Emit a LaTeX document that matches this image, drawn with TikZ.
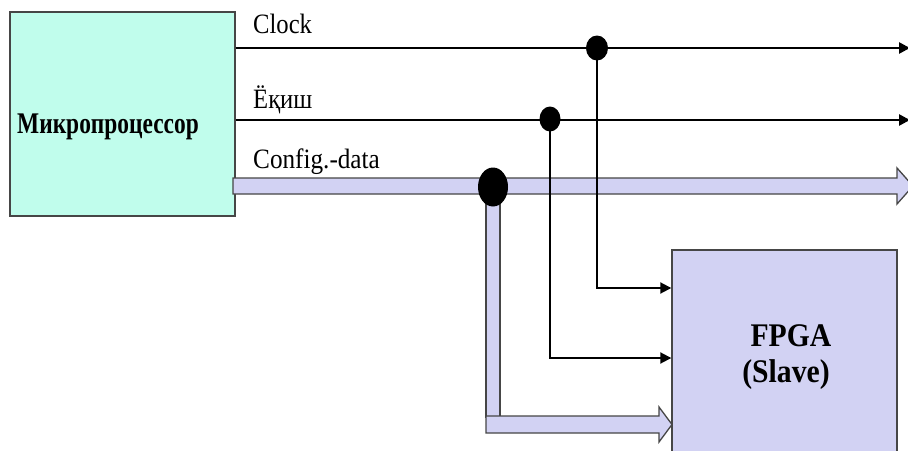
\documentclass[tikz,border=0pt]{standalone}
\usepackage{fontspec}
\setmainfont{Liberation Serif}
\usetikzlibrary{arrows.meta,shapes.geometric}
\definecolor{cpu}{RGB}{192,253,236}
\definecolor{lav}{RGB}{210,210,243}
\definecolor{edge}{RGB}{70,70,70}
\newcommand{\cond}[2]{\scalebox{#1}[1]{#2}}
\tikzset{
  cpubox/.style={draw=edge,line width=1.4pt,fill=cpu,rectangle,inner sep=0pt,minimum width=225pt,minimum height=204pt},
  fpgabox/.style={draw=edge,line width=1.4pt,fill=lav,rectangle,inner sep=0pt,minimum width=225pt,minimum height=215pt},
  lbl/.style={inner sep=0pt,font=\fontsize{28}{32}\selectfont},
  blbl/.style={inner sep=0pt,font=\fontsize{30}{36}\selectfont\bfseries},
  fbl/.style={inner sep=0pt,font=\fontsize{33}{38}\selectfont\bfseries},
  sig/.style={line width=2.6pt,draw=black},
  vsig/.style={line width=1.9pt,draw=black},
  tip/.style={-{Triangle[length=11pt,width=11pt]}},
  bus/.style={draw=edge,line width=1.3pt,fill=lav,line join=miter},
  dot/.style={ellipse,fill=black,inner sep=0pt},
}
\begin{document}
\begin{tikzpicture}[x=1pt,y=-1pt]
\useasboundingbox (0,0) rectangle (908,450);
\clip (0,0) rectangle (908,450);
\fill[white] (0,0) rectangle (908,450);

% blocks
\node[cpubox] (cpu) at (122.5,114) {};
\node[blbl,anchor=base west] (cputext) at (17,133) {\cond{0.78}{Микропроцессор}};
\node[fpgabox] (fpga) at (784.5,357.5) {};
\node[fbl,anchor=base] (fpgat1) at (791,346) {\cond{0.9}{FPGA}};
\node[fbl,anchor=base] (fpgat2) at (786,382) {\cond{0.9}{(Slave)}};

% labels
\node[lbl,anchor=base west] (lclk) at (253,33) {\cond{0.88}{Clock}};
\node[lbl,anchor=base west] (lsel) at (253,108) {\cond{0.88}{Ёқиш}};
\node[lbl,anchor=base west] (ldat) at (253,168) {\cond{0.9}{Config.-data}};

% coordinates
\coordinate (clkend) at (910,48);
\coordinate (selend) at (910,120);
\coordinate (clkin) at (fpga.west |- 0,288);
\coordinate (selin) at (fpga.west |- 0,358);

% buses
\draw[bus] (486,190) rectangle (500,417);
\draw[bus] (486,416) -- (659,416) -- (659,407) -- (672,424.5) -- (659,442) -- (659,433) -- (486,433) -- cycle;
\draw[bus] (233,178) -- (897,178) -- (897,168) -- (913,186) -- (897,204) -- (897,194) -- (233,194) -- cycle;

% signal lines
\draw[sig,tip] (cpu.east |- clkend) -- (clkend);
\draw[sig,tip] (cpu.east |- selend) -- (selend);

\node[dot,minimum width=22pt,minimum height=25pt] (dclk) at (597,48) {};
\node[dot,minimum width=21pt,minimum height=25pt] (dsel) at (550,119) {};
\node[dot,minimum width=30pt,minimum height=39pt] (ddat) at (493,187) {};

\draw[vsig,tip] (dclk.center) |- (clkin);
\draw[vsig,tip] (dsel.center) |- (selin);
\end{tikzpicture}
\end{document}
